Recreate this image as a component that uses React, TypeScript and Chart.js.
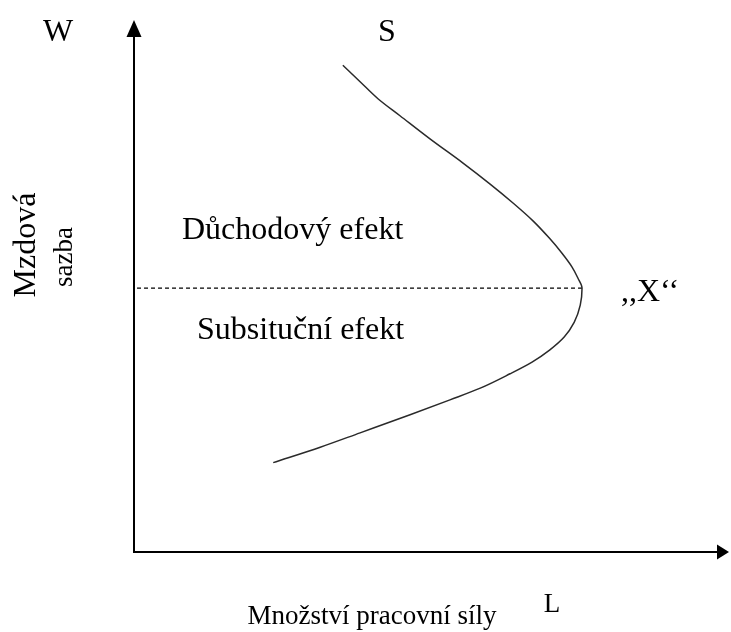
import { useEffect, useRef } from "react";
import { Chart, registerables } from "chart.js";

Chart.register(...registerables);

// Backward-bending labour supply curve S: labour quantity L vs. wage rate W
const supplyL = [
  35.1, 38.0, 41.0, 44.7, 49.8, 55.3, 59.8, 63.7, 67.1, 69.8, 71.9, 73.6, 74.6, 75.3,
  75.0, 74.0, 72.3, 69.9, 66.9, 63.2, 58.2, 53.1, 46.4, 38.0, 31.3, 23.4,
];
const supplyW = [
  91.5, 88.4, 85.2, 82.0, 77.6, 73.1, 69.2, 65.6, 62.2, 59.0, 56.2, 53.6, 51.5, 49.6,
  46.4, 43.2, 40.4, 38.0, 35.7, 33.5, 30.8, 28.6, 25.8, 22.4, 19.7, 16.8,
];

// Turning point "X" where the income effect starts to dominate
const turningL = 75.3;
const turningW = 49.6;

const axisNames = { x: "L", y: "W", curve: "S", point: ",,X‘‘" };
const axisTitles = { x: "Množství pracovní síly", y: ["Mzdová", "sazba"] };
const regionLabels = { upper: "Důchodový efekt", lower: "Subsituční efekt" };

const SERIF = '"Liberation Serif", "Times New Roman", serif';

const annotations = {
  id: "annotations",
  afterDraw(chart: Chart) {
    const { ctx, chartArea: a } = chart;
    ctx.save();
    ctx.fillStyle = "#000";
    ctx.strokeStyle = "#000";

    // axes with arrow heads
    ctx.lineWidth = 2;
    ctx.beginPath();
    ctx.moveTo(a.left, a.top + 14);
    ctx.lineTo(a.left, a.bottom);
    ctx.lineTo(a.right - 9, a.bottom);
    ctx.stroke();

    ctx.beginPath();
    ctx.moveTo(a.left, a.top);
    ctx.lineTo(a.left - 7.5, a.top + 17);
    ctx.lineTo(a.left + 7.5, a.top + 17);
    ctx.closePath();
    ctx.fill();

    ctx.beginPath();
    ctx.moveTo(a.right, a.bottom);
    ctx.lineTo(a.right - 12, a.bottom - 7.5);
    ctx.lineTo(a.right - 12, a.bottom + 7.5);
    ctx.closePath();
    ctx.fill();

    ctx.textBaseline = "alphabetic";
    ctx.textAlign = "center";
    ctx.font = `32px ${SERIF}`;
    ctx.fillText(axisNames.y, 58, 41);
    ctx.fillText(axisNames.curve, 387, 41);

    ctx.textAlign = "left";
    ctx.fillText(regionLabels.upper, 182, 239);
    ctx.fillText(regionLabels.lower, 197, 339);
    ctx.fillText(axisNames.point, 621, 301);

    // rotated y title
    ctx.textAlign = "center";
    ctx.save();
    ctx.translate(35, 245);
    ctx.rotate(-Math.PI / 2);
    ctx.fillText(axisTitles.y[0], 0, 0);
    ctx.restore();

    ctx.font = `27px ${SERIF}`;
    ctx.save();
    ctx.translate(72, 257);
    ctx.rotate(-Math.PI / 2);
    ctx.fillText(axisTitles.y[1], 0, 0);
    ctx.restore();

    ctx.fillText(axisNames.x, 552, 612);
    ctx.fillText(axisTitles.x, 372, 624);

    ctx.restore();
  },
};

export default function App() {
  const ref = useRef<HTMLCanvasElement>(null);

  useEffect(() => {
    if (!ref.current) return;
    const chart = new Chart(ref.current, {
      type: "line",
      data: {
        datasets: [
          {
            data: supplyL.map((l, i) => ({ x: l, y: supplyW[i] })),
            cubicInterpolationMode: "monotone",
            borderColor: "#2a2a2a",
            borderWidth: 1.5,
            pointRadius: 0,
            fill: false,
            clip: false,
          },
          {
            data: [
              { x: turningL, y: turningW },
              { x: 0, y: turningW },
            ],
            borderColor: "#000",
            borderWidth: 1.4,
            borderDash: [4, 3],
            pointRadius: 0,
            fill: false,
            clip: false,
          },
        ],
      },
      options: {
        animation: false,
        responsive: false,
        indexAxis: "y",
        layout: { padding: { left: 134, right: 2, top: 20, bottom: 80 } },
        plugins: { legend: { display: false }, tooltip: { enabled: false } },
        scales: {
          x: { type: "linear", min: 0, max: 100, display: false },
          y: { type: "linear", min: 0, max: 100, display: false },
        },
      },
      plugins: [annotations],
    });
    return () => chart.destroy();
  }, []);

  return (
    <div style={{ position: "fixed", left: 0, top: 0, width: 731, height: 632, background: "#fff" }}>
      <canvas ref={ref} width={731} height={632} style={{ display: "block" }} />
    </div>
  );
}
